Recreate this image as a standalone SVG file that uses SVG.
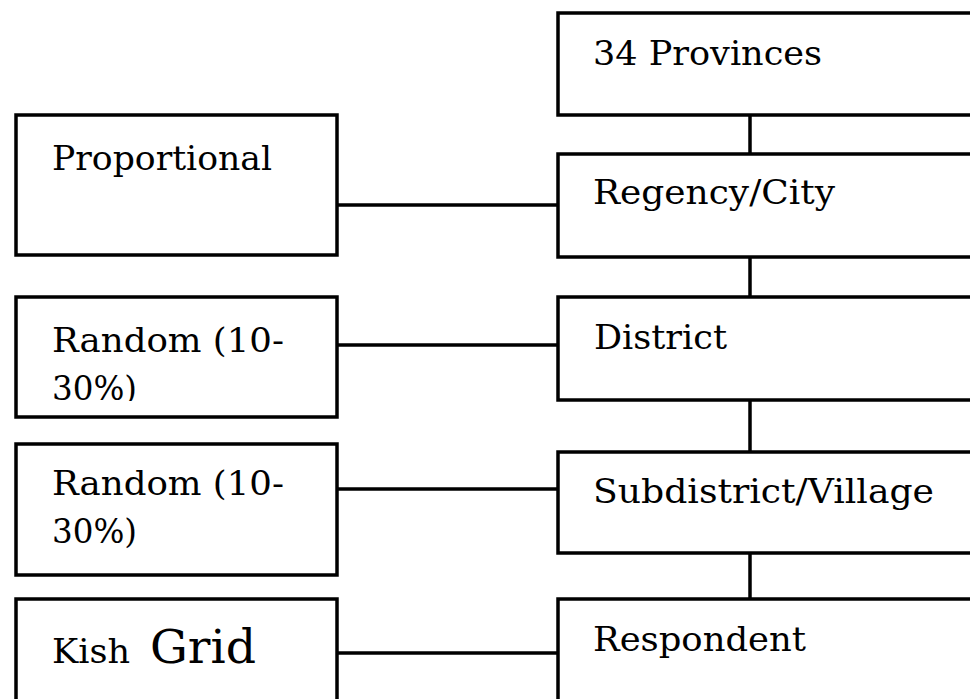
<svg xmlns="http://www.w3.org/2000/svg" width="970" height="699" viewBox="0 0 970 699">
<style>
.box{fill:#fff;stroke:#000;stroke-width:3.5}
.ln{stroke:#000;stroke-width:3.5;fill:none}
.t{font-family:"DejaVu Serif","Liberation Serif",serif;font-size:34px;fill:#000}
.big{font-size:47px}
</style>
<defs>
<clipPath id="c1"><rect x="16" y="297" width="321" height="104"/></clipPath>
</defs>
<rect width="970" height="699" fill="#fff"/>
<g id="connectors">
<line class="ln" x1="750" y1="115" x2="750" y2="154"/>
<line class="ln" x1="750" y1="257" x2="750" y2="297"/>
<line class="ln" x1="750" y1="400" x2="750" y2="452"/>
<line class="ln" x1="750" y1="553" x2="750" y2="599"/>
<line class="ln" x1="337" y1="205" x2="558" y2="205"/>
<line class="ln" x1="337" y1="345" x2="558" y2="345"/>
<line class="ln" x1="337" y1="489" x2="558" y2="489"/>
<line class="ln" x1="337" y1="653" x2="558" y2="653"/>
</g>
<g id="provinces"><rect class="box" x="558" y="13" width="450" height="102"/><text class="t" x="593" y="65" textLength="229" lengthAdjust="spacingAndGlyphs">34 Provinces</text></g>
<g id="regency"><rect class="box" x="558" y="154" width="450" height="103"/><text class="t" x="593" y="204" textLength="242" lengthAdjust="spacingAndGlyphs">Regency/City</text></g>
<g id="district"><rect class="box" x="558" y="297" width="450" height="103"/><text class="t" x="594" y="349" textLength="133" lengthAdjust="spacingAndGlyphs">District</text></g>
<g id="subdistrict"><rect class="box" x="558" y="452" width="450" height="101"/><text class="t" x="593" y="503" textLength="341" lengthAdjust="spacingAndGlyphs">Subdistrict/Village</text></g>
<g id="respondent"><rect class="box" x="558" y="599" width="450" height="140"/><text class="t" x="593" y="651" textLength="213" lengthAdjust="spacingAndGlyphs">Respondent</text></g>
<g id="proportional"><rect class="box" x="16" y="115" width="321" height="140"/><text class="t" x="52" y="170" textLength="220" lengthAdjust="spacingAndGlyphs">Proportional</text></g>
<g id="random1"><rect class="box" x="16" y="297" width="321" height="120"/><text class="t" x="52" y="352" textLength="232" lengthAdjust="spacingAndGlyphs">Random (10-</text><text class="t" x="52" y="400" textLength="85" lengthAdjust="spacingAndGlyphs" clip-path="url(#c1)">30%)</text></g>
<g id="random2"><rect class="box" x="16" y="444" width="321" height="131"/><text class="t" x="52" y="495" textLength="232" lengthAdjust="spacingAndGlyphs">Random (10-</text><text class="t" x="52" y="543" textLength="85" lengthAdjust="spacingAndGlyphs">30%)</text></g>
<g id="kish"><rect class="box" x="16" y="599" width="321" height="140"/><text class="t" x="52" y="663"><tspan textLength="78" lengthAdjust="spacingAndGlyphs">Kish</tspan><tspan class="big" x="150" textLength="106" lengthAdjust="spacingAndGlyphs">Grid</tspan></text></g>
</svg>
